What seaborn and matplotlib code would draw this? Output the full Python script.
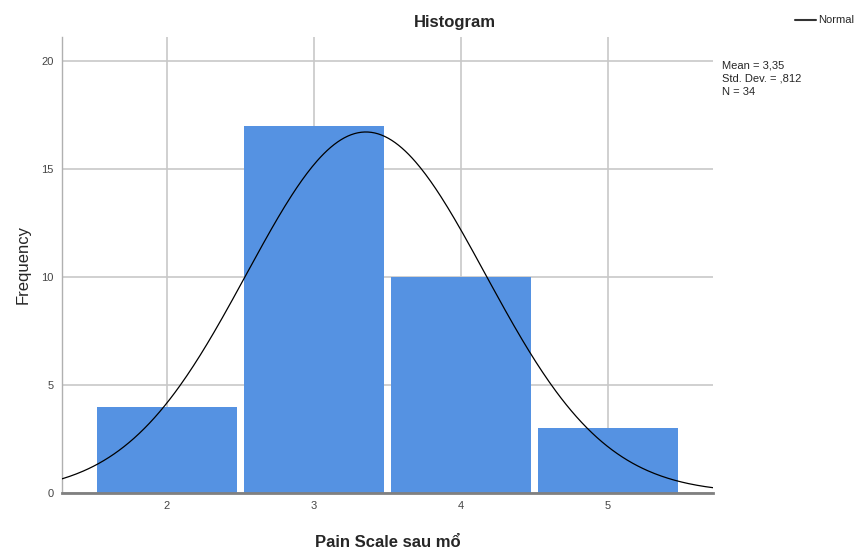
import numpy as np
import pandas as pd
import seaborn as sns
import matplotlib.pyplot as plt

# Pain Scale sau mổ: giá trị và tần số
scores = [2, 3, 4, 5]
counts = [4, 17, 10, 3]

df = pd.DataFrame({'score': np.repeat(scores, counts)})
n = len(df)
mean = df['score'].mean()
sd = df['score'].std()

sns.set_style('white')
plt.rcParams['font.family'] = ['Liberation Sans', 'DejaVu Sans']

fig = plt.figure(figsize=(8.58, 5.51), dpi=100)
ax = fig.add_axes([0.0723, 0.1053, 0.7587, 0.8277])

sns.histplot(data=df, x='score', discrete=True, shrink=0.95, color='#5592e2',
             alpha=1, edgecolor='none', ax=ax, zorder=2)

# đường cong chuẩn
xs = np.linspace(1.2, 5.8, 400)
ys = n * np.exp(-0.5 * ((xs - mean) / sd) ** 2) / (sd * np.sqrt(2 * np.pi))
sns.lineplot(x=xs, y=ys, color='black', linewidth=0.9, ax=ax, zorder=3)

ax.set_xlim(1.286, 5.714)
ax.set_ylim(0, 21.1)
ax.set_xticks(scores)
ax.set_yticks([0, 5, 10, 15, 20])
ax.grid(True, color='#c8c8c8', linewidth=1.2)
ax.set_axisbelow(True)
ax.tick_params(length=0, labelsize=8, colors='#444444', pad=6)

for s in ['top', 'right']:
    ax.spines[s].set_visible(False)
ax.spines['left'].set_color('#b0b0b0')
ax.spines['left'].set_linewidth(1)
ax.spines['bottom'].set_color('#808080')
ax.spines['bottom'].set_linewidth(2)

ax.set_xlabel('Pain Scale sau mổ', fontsize=12, fontweight='bold', labelpad=17)
ax.set_ylabel('Frequency', fontsize=12, labelpad=8)

fig.text(455 / 858, 1 - 22 / 551, 'Histogram', ha='center', va='center',
         fontsize=12, fontweight='bold')

stats_txt = 'Mean = %s\nStd. Dev. = %s\nN = %d' % (
    ('%.2f' % mean).replace('.', ','), ('%.3f' % sd).lstrip('0').replace('.', ','), n)
fig.text(722 / 858, 1 - 60 / 551, stats_txt, ha='left', va='top', fontsize=8,
         linespacing=1.45)

fig.add_artist(plt.Line2D([795 / 858, 816 / 858], [1 - 20 / 551, 1 - 20 / 551],
                          color='#333333', linewidth=1.5))
fig.text(818 / 858, 1 - 20 / 551, 'Normal', ha='left', va='center', fontsize=8)

fig.savefig('out.png', dpi=100)
